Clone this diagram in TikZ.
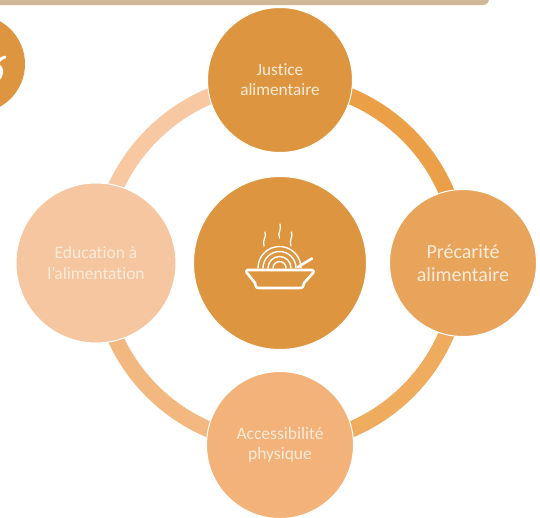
\documentclass[tikz,border=0pt]{standalone}
\usepackage{fontspec}
\setmainfont{Carlito}[Ligatures=NoCommon]
\definecolor{cmain}{HTML}{DD963F}
\definecolor{cright}{HTML}{E8A45A}
\definecolor{cbottom}{HTML}{F2B27A}
\definecolor{cleft}{HTML}{F6C6A0}
\definecolor{atr}{HTML}{EBA047}
\definecolor{abr}{HTML}{F0AC5E}
\definecolor{abl}{HTML}{F3B880}
\definecolor{atl}{HTML}{F7C8A2}
\definecolor{band}{HTML}{D0B896}
\definecolor{lab}{HTML}{FBEBD8}
\tikzset{
  disc/.style={circle,draw=white,line width=1pt,inner sep=0pt,align=center,text=lab,font=\fontsize{#1}{1.16\dimexpr #1pt\relax}\selectfont},
  ringarc/.style={line width=16pt,line cap=butt},
  icon/.style={draw=white,line width=2.6pt,line cap=round,line join=round},
  iconthin/.style={draw=white,line width=1.2pt,line cap=round},
}
\begin{document}
\begin{tikzpicture}[x=1pt,y=-1pt]
\useasboundingbox (0,0) rectangle (540,517);
\coordinate (ctr) at (280,263);
% top band
\fill[band] (-5,-20) -- (489,-20) -- (489,-1) arc[start angle=0,end angle=-90,x radius=6,y radius=-6] -- (-5,5) -- cycle;
% ring segments
\draw[ringarc,atr] (280,82) arc[start angle=90,end angle=0,x radius=181,y radius=-181];
\draw[ringarc,abr] (461,263) arc[start angle=0,end angle=-90,x radius=181,y radius=-181];
\draw[ringarc,abl] (280,444) arc[start angle=-90,end angle=-180,x radius=181,y radius=-181];
\draw[ringarc,atl] (99,263) arc[start angle=180,end angle=90,x radius=181,y radius=-181];
% discs
\node[disc=17.2,fill=cmain,minimum size=145pt] (top) at (280,80) {Justice\\alimentaire};
\node[disc=20,fill=cright,minimum size=147pt] (right) at (463,263) {Précarité\\alimentaire};
\node[disc=17.5,fill=cbottom,minimum size=147pt] (bottom) at (280,445) {Accessibilité\\physique};
\node[disc=17.5,fill=cleft,minimum size=160pt] (left) at (96,263) {Education à\\l'alimentation};
\node[disc=10,fill=cmain,minimum size=173pt] (centre) at (ctr) {};
% corner disc
\node[circle,fill=cmain,minimum size=98pt,inner sep=0pt] (corner) at (-24,64) {};
\draw[icon,line width=3pt] (5,57) .. controls (-3,60) and (-4,64) .. (0,67) .. controls (3,70) and (2,75) .. (-2,80);
% bowl icon
\draw[icon] (247.5,270) -- (312,270) .. controls (314,270) and (314,272) .. (313,273) -- (304,283) .. controls (303,288) and (302,288) .. (300,288)
  -- (259,288) .. controls (257,288) and (256,288) .. (255,283) -- (247,273) .. controls (246,272) and (246,270) .. (247.5,270) -- cycle;
\foreach \r in {21.5,16.5,11.5,6.5}
  \draw[iconthin,line width=1.4pt] (279.5+\r,268) arc[start angle=0,end angle=180,x radius=\r,y radius=-\r];
\draw[icon] (298,267) -- (312,258.5);
\draw[iconthin] (265,232) .. controls (267,237) and (262,240) .. (264,246);
\draw[iconthin] (280,224) .. controls (282,230) and (277,233) .. (279.5,238);
\draw[iconthin] (291.5,232) .. controls (293.5,237) and (288.5,240) .. (291,246);
\end{tikzpicture}
\end{document}
